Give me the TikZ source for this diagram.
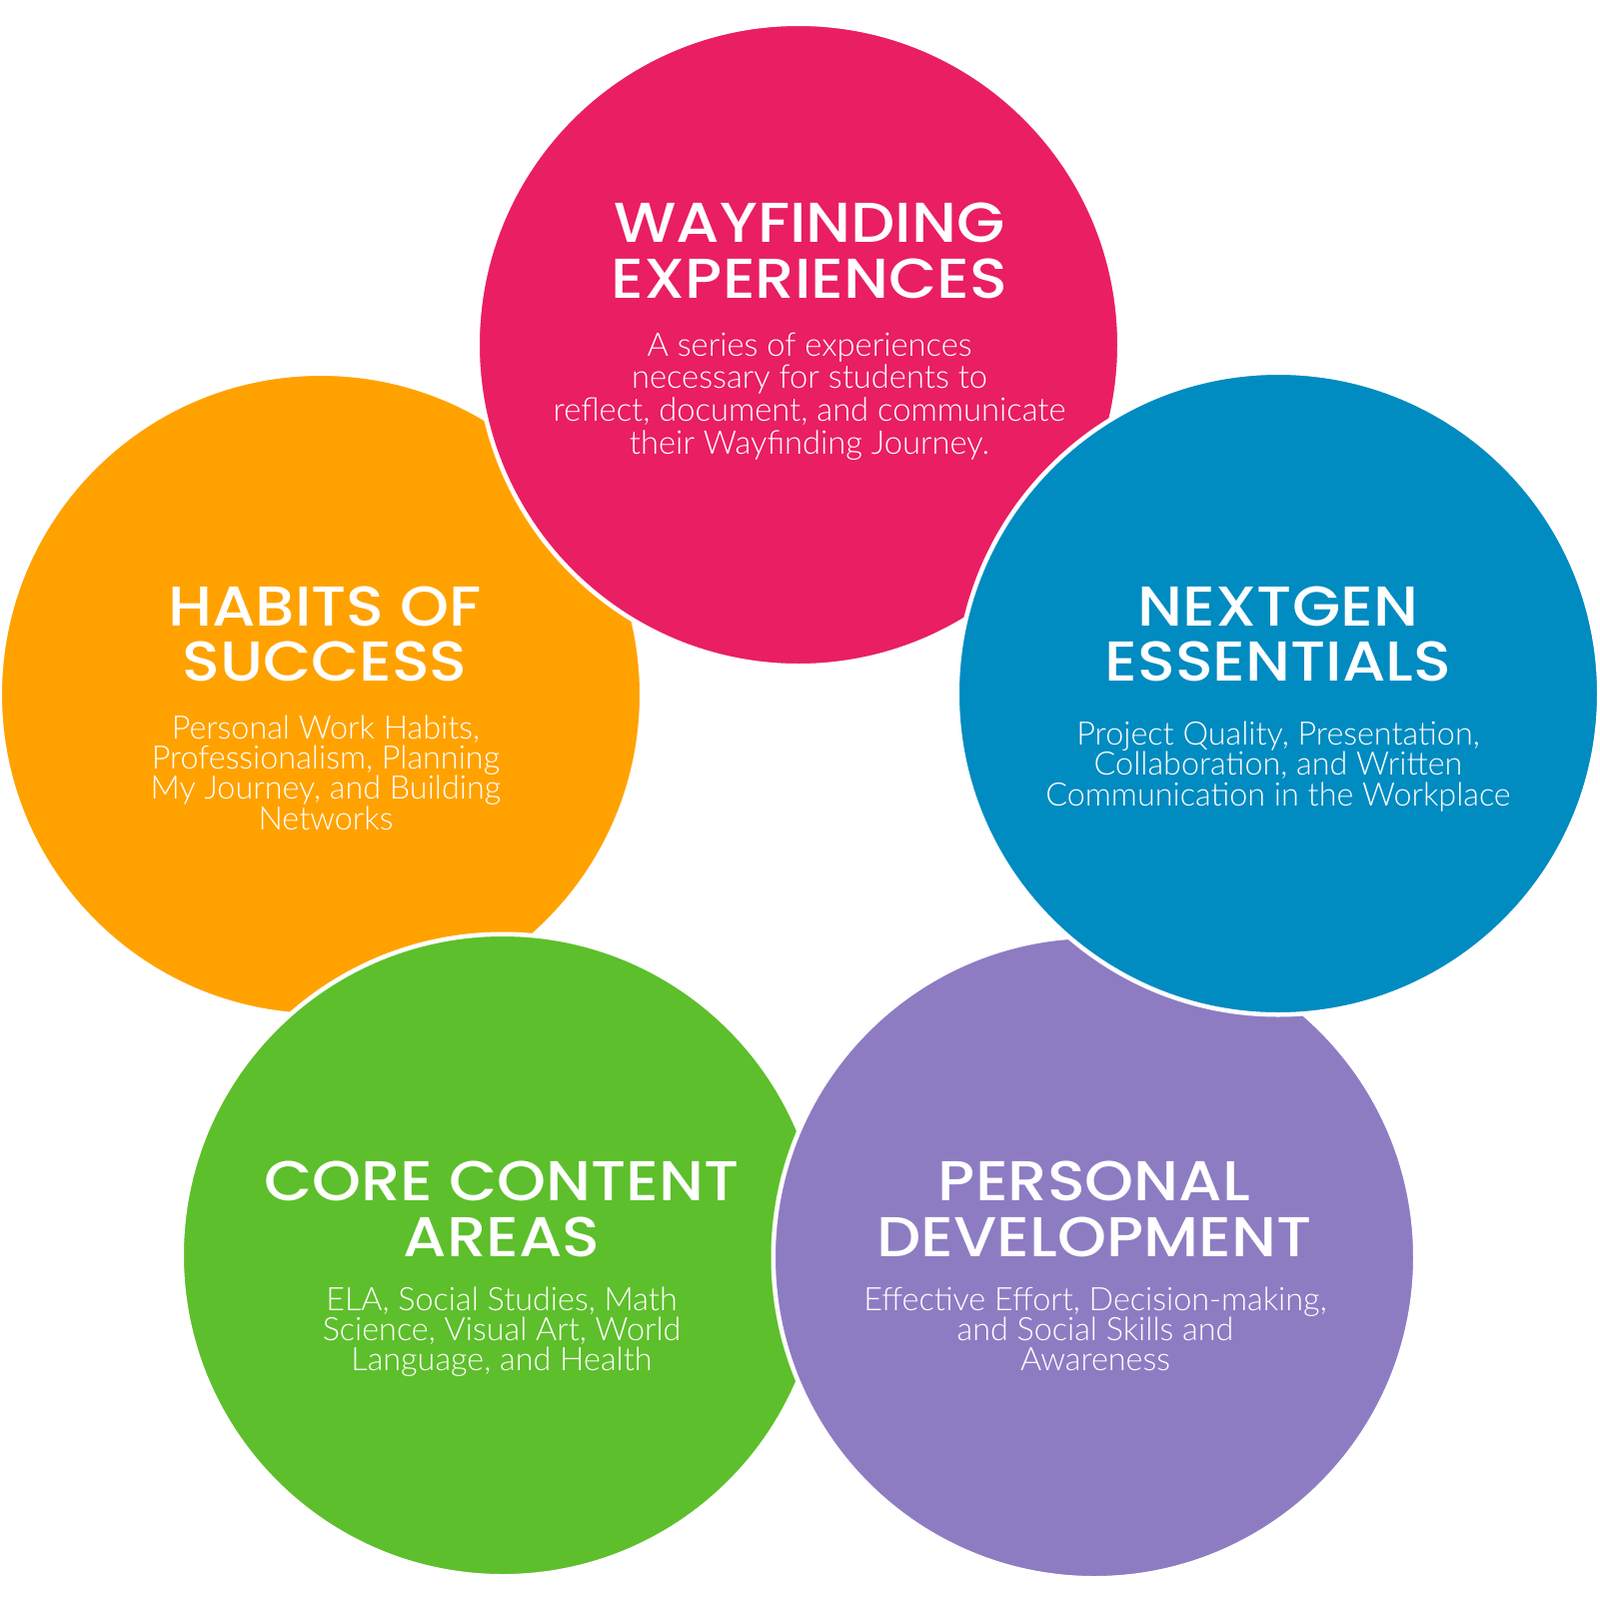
\documentclass[tikz,border=0pt]{standalone}
\usepackage{fontspec}
\newfontfamily\headfont{Poppins Medium}[FakeStretch=1.11]
\newfontfamily\bodyfont{Lato Light}
\usetikzlibrary{positioning}
\definecolor{wayc}{HTML}{E91E63}
\definecolor{habitc}{HTML}{FFA200}
\definecolor{nextc}{HTML}{008BC1}
\definecolor{corec}{HTML}{5DBF2B}
\definecolor{persc}{HTML}{8E7CC3}

\begin{document}
\begin{tikzpicture}[x=0.1mm, y=-0.1mm,
  bubble/.style={circle, draw=white, line width=0.45mm, minimum size=64.25mm, inner sep=0},
  headtxt/.style={anchor=base, align=center, inner sep=0, text=white, font=\headfont\fontsize{16}{15.8}\selectfont},
  bodytxt/.style={anchor=base, align=center, inner sep=0, text=white, font=\bodyfont\fontsize{9.2}{8.55}\selectfont}]
  \useasboundingbox (0,0) rectangle (1600,1600);

  % circles, back to front
  \node [bubble, fill=habitc] (habit) at (321,695) {};
  \node [bubble, fill=wayc] (way) at (799,345) {};
  \node [bubble, fill=corec] (core) at (503,1256) {};
  \node [bubble, fill=persc] (pers) at (1095,1258) {};
  \node [bubble, fill=nextc] (next) at (1279,694) {};

  % texts (placed at the baseline of their last line)
  \node [headtxt] (way-head) at (810,298.3) {WAYFINDING\\EXPERIENCES};
  \node [bodytxt, font=\bodyfont\fontsize{9.3}{9.25}\selectfont] (way-body) at (810,454)
    {A series of experiences\\necessary for students to\\reflect, document, and communicate\\their Wayfinding Journey.};

  \node [headtxt] (habit-head) at (325,681.7) {HABITS OF\\SUCCESS};
  \node [bodytxt] (habit-body) at (326,830)
    {Personal Work Habits,\\Professionalism, Planning\\My Journey, and Building\\Networks};

  \node [headtxt] (next-head) at (1279,681.7) {NEXTGEN\\ESSENTIALS};
  \node [bodytxt] (next-body) at (1279,806)
    {Project Quality, Presentation,\\Collaboration, and Written\\Communication in the Workplace};

  \node [headtxt] (core-head) at (502,1257.3) {CORE CONTENT\\AREAS};
  \node [bodytxt] (core-body) at (502,1371.7)
    {ELA, Social Studies, Math\\Science, Visual Art, World\\Language, and Health};

  \node [headtxt] (pers-head) at (1095,1257.3) {PERSONAL\\DEVELOPMENT};
  \node [bodytxt] (pers-body) at (1096,1371.7)
    {Effective Effort, Decision-making,\\and Social Skills and\\Awareness};
\end{tikzpicture}
\end{document}
